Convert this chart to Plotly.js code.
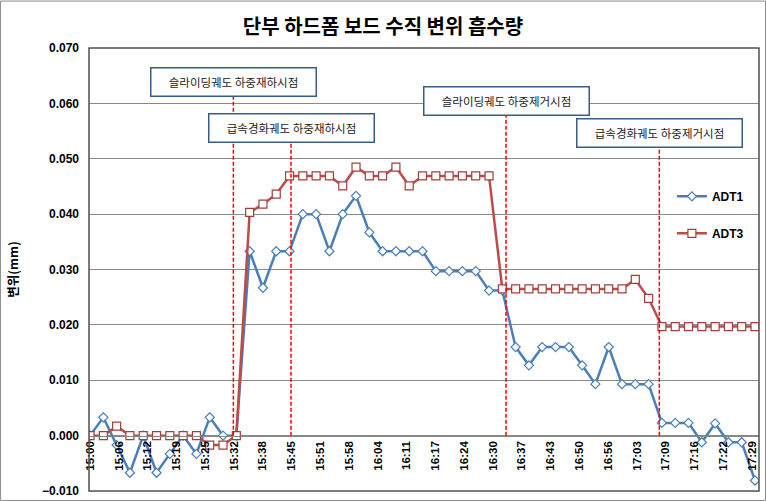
<!DOCTYPE html>
<html><head><meta charset="utf-8">
<script src="https://cdn.plot.ly/plotly-3.0.1.min.js"></script>
<style>html,body{margin:0;padding:0;background:#fff}#chart{width:766px;height:501px}</style>
</head><body><div id="chart"></div>
<script>
const times = ["15:00","15:03","15:06","15:09","15:12","15:15","15:18","15:21","15:24","15:27",
  "15:30","15:33","15:36","15:39","15:42","15:45","15:48","15:51","15:54","15:57",
  "16:00","16:03","16:06","16:09","16:12","16:15","16:18","16:21","16:24","16:27",
  "16:30","16:33","16:36","16:39","16:42","16:45","16:48","16:51","16:54","16:57",
  "17:00","17:03","17:06","17:09","17:12","17:15","17:18","17:21","17:24","17:27","17:30"];
const adt1 = [0, 0.0033, -0.0017, -0.0067, 0, -0.0067, -0.0033, 0, -0.0033, 0.0033,
  0, 0, 0.0333, 0.0267, 0.0333, 0.0333, 0.0400, 0.0400, 0.0333, 0.0400,
  0.0433, 0.0367, 0.0333, 0.0333, 0.0333, 0.0333, 0.0297, 0.0297, 0.0297, 0.0297,
  0.0262, 0.0262, 0.0160, 0.0127, 0.0160, 0.0160, 0.0160, 0.0127, 0.0093, 0.0160,
  0.0093, 0.0093, 0.0093, 0.0023, 0.0023, 0.0023, -0.0012, 0.0022, -0.0012, -0.0012, -0.0081];
const adt3 = [0, 0, 0.0017, 0, 0, 0, 0, 0, 0, -0.0017,
  -0.0017, 0, 0.0403, 0.0418, 0.0436, 0.0469, 0.0469, 0.0469, 0.0469, 0.0451,
  0.0485, 0.0469, 0.0469, 0.0485, 0.0451, 0.0469, 0.0469, 0.0469, 0.0469, 0.0469,
  0.0469, 0.0265, 0.0265, 0.0265, 0.0265, 0.0265, 0.0265, 0.0265, 0.0265, 0.0265,
  0.0265, 0.0282, 0.0248, 0.0197, 0.0197, 0.0197, 0.0197, 0.0197, 0.0197, 0.0197, 0.0197];
const tickLabels = ["15:00","15:06","15:12","15:19","15:25","15:32","15:38","15:45","15:51","15:58",
  "16:04","16:11","16:17","16:24","16:30","16:37","16:43","16:50","16:56","17:03",
  "17:09","17:16","17:22","17:29"];
const eventTimes = ["15:32:20","15:45:20","16:33:50","17:08:25"];
const eventLabels = ["슬라이딩궤도 하중재하시점","급속경화궤도 하중재하시점","슬라이딩궤도 하중제거시점","급속경화궤도 하중제거시점"];
const eventBoxY = [0.0639, 0.0556, 0.0604, 0.0547];

const DAY = "2000-01-01 ";
const xs = times.map(t => DAY + t);
function pad(n){return (n<10?"0":"")+n;}
function secToStr(s){const h=Math.floor(s/3600),m=Math.floor((s%3600)/60),ss=Math.round(s%60);return DAY+pad(h)+":"+pad(m)+":"+pad(ss);}
const start = 15*3600, step = 389.5;
const tickVals = tickLabels.map((_,k)=>secToStr(start + k*step));

const KFONT = "Noto Sans CJK KR, sans-serif";
const LFONT = "Liberation Sans, Arial, sans-serif";

const traces = [
  {x: xs, y: adt1, name: "ADT1", type: "scatter", mode: "lines+markers", legendgroup: "a",
   line: {color: "#4a7ebb", width: 2.5},
   marker: {symbol: "diamond", size: 7, color: "#ffffff", line: {color: "#4a7ebb", width: 1.2}}},
  {x: xs, y: adt3, name: "ADT3", type: "scatter", mode: "lines+markers", legendgroup: "b",
   line: {color: "#be4b48", width: 2.5},
   marker: {symbol: "square", size: 8, color: "#ffffff", line: {color: "#a0403d", width: 1.2}}}
];

const shapes = eventTimes.map((t,i)=>({type:"line", xref:"x", yref:"y", x0: DAY+t, x1: DAY+t, y0: 0, y1: eventBoxY[i],
  line:{color:"#ff0000", width:1.5, dash:"4px,2px"}, layer:"above"}));
shapes.push({type:"rect", xref:"paper", yref:"paper", x0:0, x1:1, y0:0, y1:1, line:{color:"#505050", width:1.5}, layer:"above"});
shapes.push({type:"rect", xref:"paper", yref:"paper", x0:-0.132, x1:1.0097, y0:-0.0214, y1:1.106, line:{color:"#8c8c8c", width:1}, layer:"below"});

const annotations = eventTimes.map((t,i)=>({xref:"x", yref:"y", x: DAY+t, y: eventBoxY[i], text: eventLabels[i],
  showarrow:false, font:{family:KFONT, size:11.5, color:"#222"}, bgcolor:"#ffffff", bordercolor:"#385d8a",
  borderwidth:1.5, borderpad:0, width:164, height:27, xanchor:"center", yanchor:"middle"}));

const layout = {
  width: 766, height: 501,
  margin: {l: 89, r: 7, t: 47.5, b: 10},
  paper_bgcolor: "#ffffff", plot_bgcolor: "#ffffff",
  title: {text: "단부 하드폼 보드 수직 변위 흡수량", font: {family: KFONT, size: 20, weight: "bold", color: "#000"},
          x: 0.5, xref: "container", xanchor: "center", y: 0.946, yref: "container", yanchor: "middle"},
  showlegend: true,
  legend: {x: 0.87, y: 0.698, xanchor: "left", yanchor: "top", bgcolor: "rgba(0,0,0,0)", borderwidth: 0,
           tracegroupgap: 18, font: {family: LFONT, size: 12, weight: "bold", color: "#000"}},
  xaxis: {type: "date", range: [DAY+"14:59:46", DAY+"17:30:54"], anchor: "free", position: 0.125,
          tickmode: "array", tickvals: tickVals, ticktext: tickLabels, tickangle: -90,
          showgrid: false, zeroline: false, showline: true, linecolor: "#868686", linewidth: 1,
          ticks: "", tickfont: {family: LFONT, size: 11.5, weight: "bold", color: "#000"}},
  yaxis: {range: [-0.01, 0.07], dtick: 0.01, tick0: 0, tickformat: ".3f", showgrid: true, gridcolor: "#8a8a8a",
          gridwidth: 1, zeroline: false, showline: false, ticks: "", ticklabelstandoff: 9,
          tickfont: {family: LFONT, size: 12, weight: "bold", color: "#000"},
          title: {text: "변위(mm)", standoff: 20, font: {family: KFONT, size: 12.5, weight: "bold", color: "#000"}}},
  shapes: shapes,
  annotations: annotations
};
Plotly.newPlot("chart", traces, layout, {displayModeBar: false, staticPlot: true});
</script></body></html>
